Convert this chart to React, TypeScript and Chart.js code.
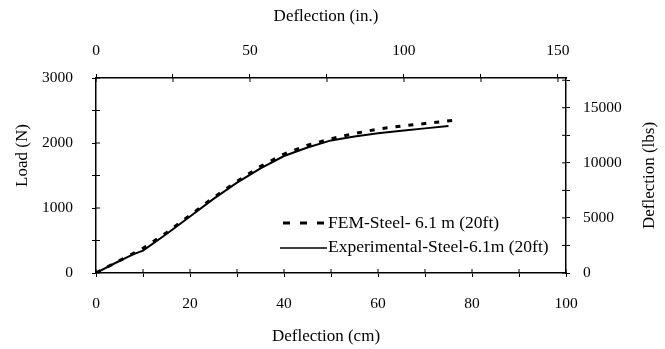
import React, { useEffect, useRef } from 'react';
import { Chart, registerables } from 'chart.js';

Chart.register(...registerables);

// ---- Data ----
const expDeflectionCm = [0, 4, 8, 10, 15, 20, 25, 30, 35, 40, 45, 50, 55, 60, 65, 70, 75];
const expLoadN = [0, 150, 290, 345, 600, 870, 1140, 1390, 1610, 1800, 1930, 2040, 2100, 2150, 2190, 2225, 2260];

const femDeflectionCm = [0, 5, 10, 15, 20, 25, 30, 35, 40, 45, 50, 55, 60, 65, 70, 77];
const femLoadN = [0, 190, 380, 620, 890, 1160, 1410, 1640, 1830, 1965, 2065, 2145, 2215, 2260, 2300, 2355];

const seriesLabels = ['FEM-Steel- 6.1 m (20ft)', 'Experimental-Steel-6.1m (20ft)'];

const bottomTitle = 'Deflection (cm)';
const topTitle = 'Deflection (in.)';
const leftTitle = 'Load (N)';
const rightTitle = 'Deflection (lbs)';

// tick positions and which of them carry a label
const bottomTicks = [0, 10, 20, 30, 40, 50, 60, 70, 80, 90, 100];
const bottomLabels = ['0', '', '20', '', '40', '', '60', '', '80', '', '100'];
const bottomRange = [0, 100];

const topTicks = [0, 25, 50, 75, 100, 125, 150];
const topLabels = ['0', '', '50', '', '100', '', '150'];
const topRange = [0, 152.6];

const leftTicks = [0, 500, 1000, 1500, 2000, 2500, 3000];
const leftLabels = ['0', '', '1000', '', '2000', '', '3000'];
const leftRange = [0, 3000];

const rightTicks = [0, 2500, 5000, 7500, 10000, 12500, 15000, 17500];
const rightLabels = ['0', '', '5000', '', '10000', '', '15000', ''];
const rightRange = [0, 17700];

const FONT = '"Liberation Serif", "Times New Roman", serif';

const decorPlugin = {
  id: 'decor',
  afterDraw(chart: any) {
    const ctx = chart.ctx as CanvasRenderingContext2D;
    const { left, right, top, bottom } = chart.chartArea;
    const s = chart.scales;
    ctx.save();
    ctx.strokeStyle = '#000';
    ctx.lineWidth = 1;
    // inner halves of the cross ticks
    const inner = 4;
    s.x.ticks.forEach((t: any) => {
      const p = s.x.getPixelForValue(t.value);
      ctx.beginPath(); ctx.moveTo(p, bottom); ctx.lineTo(p, bottom - inner); ctx.stroke();
    });
    s.x2.ticks.forEach((t: any) => {
      const p = s.x2.getPixelForValue(t.value);
      ctx.beginPath(); ctx.moveTo(p, top); ctx.lineTo(p, top + inner); ctx.stroke();
    });
    s.y.ticks.forEach((t: any) => {
      const p = s.y.getPixelForValue(t.value);
      ctx.beginPath(); ctx.moveTo(left, p); ctx.lineTo(left + inner, p); ctx.stroke();
    });
    s.y2.ticks.forEach((t: any) => {
      const p = s.y2.getPixelForValue(t.value);
      ctx.beginPath(); ctx.moveTo(right, p); ctx.lineTo(right - inner, p); ctx.stroke();
    });

    // axis titles
    ctx.fillStyle = '#000';
    ctx.font = `17px ${FONT}`;
    ctx.textAlign = 'center';
    ctx.textBaseline = 'middle';
    const cx = (left + right) / 2;
    const cy = (top + bottom) / 2;
    ctx.fillText(topTitle, cx - 5, 17);
    ctx.fillText(bottomTitle, cx - 5, 337);
    ctx.save();
    ctx.translate(23, cy - 20);
    ctx.rotate(-Math.PI / 2);
    ctx.fillText(leftTitle, 0, 0);
    ctx.restore();
    ctx.save();
    ctx.translate(650, cy);
    ctx.rotate(-Math.PI / 2);
    ctx.fillText(rightTitle, 0, 0);
    ctx.restore();

    // legend
    ctx.font = `17.5px ${FONT}`;
    const lx = left + 187;
    const ly1 = top + 145;
    const ly2 = top + 169;
    ctx.lineWidth = 3;
    ctx.setLineDash([7, 10]);
    ctx.beginPath(); ctx.moveTo(lx, ly1); ctx.lineTo(lx + 41, ly1); ctx.stroke();
    ctx.setLineDash([]);
    ctx.lineWidth = 1.5;
    ctx.beginPath(); ctx.moveTo(lx - 3, ly2 + 1); ctx.lineTo(lx + 44, ly2 + 1); ctx.stroke();
    ctx.textAlign = 'left';
    ctx.fillText(seriesLabels[0], lx + 45, ly1);
    ctx.fillText(seriesLabels[1], lx + 45, ly2);
    ctx.restore();
  },
};

const fixedTicks = (values: number[]) => (sc: any) => {
  sc.ticks = values.map((v) => ({ value: v }));
};
const labelsFrom = (values: number[], labels: string[]) => (v: any) => {
  const i = values.indexOf(Number(v));
  return i >= 0 ? labels[i] : '';
};

export default function App() {
  const ref = useRef<HTMLCanvasElement | null>(null);

  useEffect(() => {
    if (!ref.current) return;
    const tickFont = { family: FONT, size: 15.5 };
    const gridCommon = { display: true, drawOnChartArea: false, drawTicks: true, tickLength: 4, color: '#000', lineWidth: 1 };
    const borderCommon = { display: true, color: '#000', width: 1.5 };
    const chart = new Chart(ref.current, {
      type: 'line',
      data: {
        datasets: [
          {
            label: seriesLabels[0],
            data: femDeflectionCm.map((x, i) => ({ x, y: femLoadN[i] })),
            borderColor: '#000',
            borderWidth: 3,
            borderDash: [5, 8],
            pointRadius: 0,
            tension: 0,
            xAxisID: 'x',
            yAxisID: 'y',
          },
          {
            label: seriesLabels[1],
            data: expDeflectionCm.map((x, i) => ({ x, y: expLoadN[i] })),
            borderColor: '#000',
            borderWidth: 2,
            pointRadius: 0,
            tension: 0,
            xAxisID: 'x',
            yAxisID: 'y',
          },
        ],
      },
      options: {
        animation: false,
        responsive: false,
        layout: { padding: 0 },
        plugins: { legend: { display: false }, tooltip: { enabled: false } },
        scales: {
          x: {
            type: 'linear', position: 'bottom', min: bottomRange[0], max: bottomRange[1], bounds: 'data',
            afterBuildTicks: fixedTicks(bottomTicks),
            ticks: { autoSkip: false, maxRotation: 0, color: '#000', font: tickFont, padding: 18, callback: labelsFrom(bottomTicks, bottomLabels) },
            grid: gridCommon, border: borderCommon,
            afterFit: (sc: any) => { sc.height = 76; },
          },
          x2: {
            type: 'linear', position: 'top', min: topRange[0], max: topRange[1], bounds: 'data',
            afterBuildTicks: fixedTicks(topTicks),
            ticks: { autoSkip: false, maxRotation: 0, color: '#000', font: tickFont, padding: 14, callback: labelsFrom(topTicks, topLabels) },
            grid: gridCommon, border: borderCommon,
            afterFit: (sc: any) => { sc.height = 78; },
          },
          y: {
            type: 'linear', position: 'left', min: leftRange[0], max: leftRange[1], bounds: 'data',
            afterBuildTicks: fixedTicks(leftTicks),
            ticks: { autoSkip: false, color: '#000', font: tickFont, padding: 19, callback: labelsFrom(leftTicks, leftLabels) },
            grid: gridCommon, border: borderCommon,
            afterFit: (sc: any) => { sc.width = 96; },
          },
          y2: {
            type: 'linear', position: 'right', min: rightRange[0], max: rightRange[1], bounds: 'data',
            afterBuildTicks: fixedTicks(rightTicks),
            ticks: { autoSkip: false, color: '#000', font: tickFont, padding: 13, callback: labelsFrom(rightTicks, rightLabels) },
            grid: gridCommon, border: borderCommon,
            afterFit: (sc: any) => { sc.width = 99; },
          },
        },
      } as any,
      plugins: [decorPlugin],
    });
    return () => chart.destroy();
  }, []);

  return (
    <div style={{ position: 'absolute', left: 0, top: 0, width: 665, height: 349, background: '#fff' }}>
      <canvas ref={ref} width={665} height={349} style={{ display: 'block', width: 665, height: 349 }} />
    </div>
  );
}
